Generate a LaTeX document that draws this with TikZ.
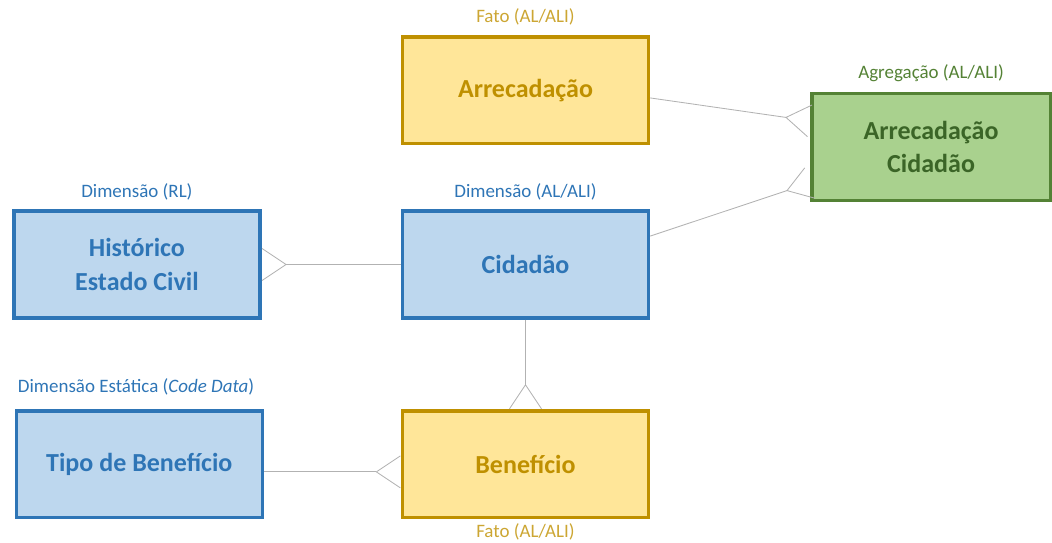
\documentclass[tikz,border=0pt]{standalone}
\usepackage{fontspec}
\setmainfont{Carlito}
\usetikzlibrary{arrows.meta,positioning}
\definecolor{factfill}{HTML}{FFE699}
\definecolor{factdraw}{HTML}{BF9000}
\definecolor{dimfill}{HTML}{BDD7EE}
\definecolor{dimdraw}{HTML}{2E75B6}
\definecolor{aggfill}{HTML}{A9D18E}
\definecolor{aggdraw}{HTML}{548235}
\definecolor{aggtext}{HTML}{3B6527}
\tikzstyle{entity}=[
	rectangle,
	line width=2.4pt,
	minimum width=6.15cm,
	minimum height=2.67cm,
	align=center,
	font=\fontsize{18.5}{24}\selectfont\bfseries
]
\tikzstyle{fact}=[entity, draw=factdraw, fill=factfill, text=factdraw]
\tikzstyle{dimension}=[entity, draw=dimdraw, fill=dimfill, text=dimdraw]
\tikzstyle{aggregate}=[entity, draw=aggdraw, fill=aggfill, text=aggtext, minimum width=5.96cm]
\tikzstyle{kind}=[font=\fontsize{13.5}{16}\selectfont, inner sep=1pt]
\tikzstyle{crowfoot}=[
	-{Straight Barb[reversed,length=0.6cm,width=0.8cm]},
	draw=black!30,
	line width=0.6pt
]

\begin{document}
\begin{tikzpicture}
\useasboundingbox (-13.1375,-6.9625) rectangle (13.1625,6.6125);
\node [dimension] (Cidadao) {Cidad\~ao};
\node [fact] (Arrecadacao) [above=1.6cm of Cidadao] {Arrecada\c{c}\~ao};
\node [fact] (Beneficio) [below=2.24cm of Cidadao] {Benef\'icio};
\node [dimension] (HistEstadoCivil) [left=3.48cm of Cidadao] {Hist\'orico\\Estado Civil};
\node [dimension] (TipoBeneficio) [left=3.42cm of Beneficio] {Tipo de Benef\'icio};
\node [aggregate] (ArrecCidadao) [above right=2.94cm and 4.0cm of Cidadao.east, anchor=west] {Arrecada\c{c}\~ao\\Cidad\~ao};

% kinds of tables
\node [kind, text=factdraw!80] (lblArrecadacao) [above=0.2cm of Arrecadacao] {Fato (AL/ALI)};
\node [kind, text=aggdraw] (lblArrecCidadao) [above=0.2cm of ArrecCidadao] {Agrega\c{c}\~ao (AL/ALI)};
\node [kind, text=dimdraw] (lblHistorico) [above=0.2cm of HistEstadoCivil] {Dimens\~ao (RL)};
\node [kind, text=dimdraw] (lblCidadao) [above=0.2cm of Cidadao] {Dimens\~ao (AL/ALI)};
\node [kind, text=dimdraw] (lblTipo) [above right=0.3cm and 0.04cm of TipoBeneficio.north west] {Dimens\~ao Est\'atica (\textit{Code Data})};
\node [kind, text=factdraw!80] (lblBeneficio) [below=0.06cm of Beneficio] {Fato (AL/ALI)};

% relationships
\draw [crowfoot] ([yshift=-0.19cm]Arrecadacao.east) -- ([yshift=0.65cm]ArrecCidadao.west);
\draw [crowfoot] ([yshift=0.71cm]Cidadao.east) -- ([yshift=-0.9cm]ArrecCidadao.west);
\draw [crowfoot] (Cidadao.west) -- (HistEstadoCivil.east);
\draw [crowfoot] (Cidadao.south) -- (Beneficio.north);
\draw [crowfoot] ([yshift=-0.19cm]TipoBeneficio.east) -- ([yshift=-0.19cm]Beneficio.west);
\end{tikzpicture}
\end{document}
